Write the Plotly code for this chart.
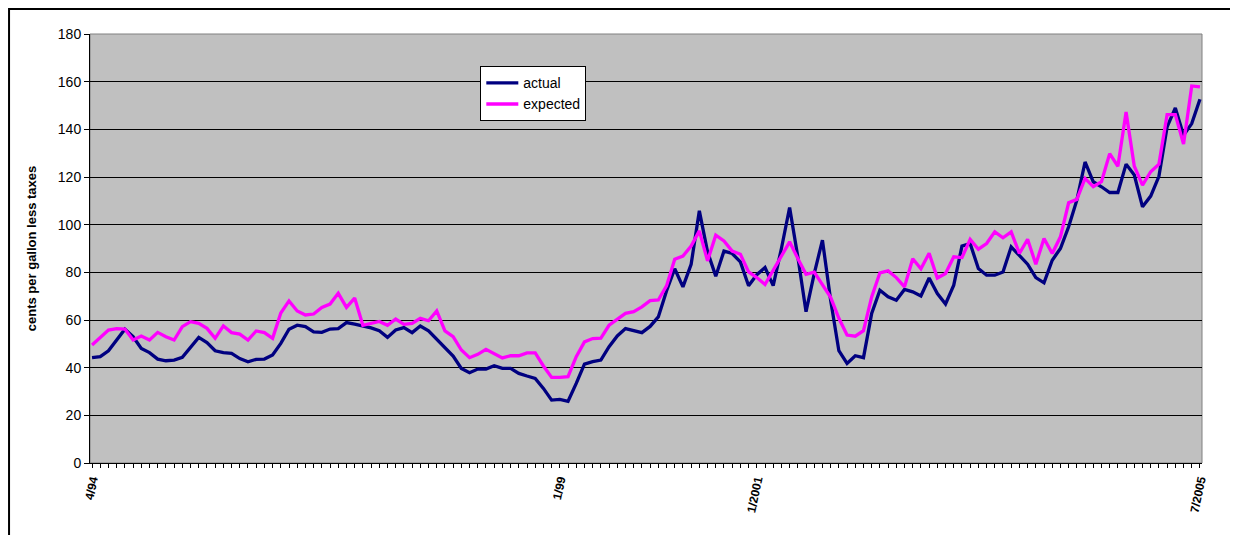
import plotly.graph_objects as go

# Monthly categories from 4/1994 through 7/2005
months = []
y, m = 1994, 4
while (y, m) <= (2005, 7):
    months.append(f"{y}-{m:02d}")
    m += 1
    if m > 12:
        m = 1
        y += 1

actual = [
    44.2, 44.6, 47.1, 51.6, 56.1, 53.0, 48.1, 46.3, 43.6, 42.9,
    43.2, 44.3, 48.5, 52.7, 50.5, 47.1, 46.3, 46.0, 43.8, 42.5,
    43.5, 43.6, 45.3, 50.2, 56.1, 57.8, 57.2, 55.0, 54.8, 56.2,
    56.4, 58.9, 58.3, 57.6, 56.7, 55.5, 52.7, 55.8, 56.8, 54.7,
    57.5, 55.5, 51.9, 48.5, 44.9, 39.7, 37.9, 39.4, 39.4, 40.8,
    39.7, 39.7, 37.6, 36.5, 35.5, 31.3, 26.4, 26.7, 25.9, 33.4,
    41.5, 42.5, 43.2, 48.8, 53.3, 56.4, 55.5, 54.7, 57.3, 61.3,
    72.2, 81.5, 73.9, 83.4, 105.8, 88.6, 78.4, 88.9, 87.9, 84.4,
    74.4, 79.0, 82.0, 74.4, 90.0, 107.2, 86.5, 63.5, 79.5, 93.5,
    68.3, 47.1, 41.8, 45.0, 44.2, 62.8, 72.5, 69.7, 68.3, 72.8,
    71.8, 70.1, 77.6, 71.1, 66.7, 74.6, 91.0, 92.1, 81.6, 78.8,
    78.8, 80.1, 90.7, 87.2, 83.4, 77.8, 75.6, 85.1, 90.0, 99.1,
    110.3, 126.3, 118.0, 115.9, 113.5, 113.5, 125.4, 120.8, 107.5, 112.0,
    120.3, 141.0, 149.0, 137.5, 142.4, 152.6,
]

expected = [
    49.5, 52.7, 55.8, 56.4, 56.2, 51.6, 53.3, 51.6, 54.8, 53.0,
    51.6, 57.2, 59.3, 58.6, 56.5, 52.3, 57.5, 54.7, 54.1, 51.6,
    55.4, 54.7, 52.3, 62.9, 68.0, 63.8, 62.1, 62.5, 65.3, 66.7,
    71.2, 65.3, 69.2, 57.8, 58.6, 59.4, 57.8, 60.4, 58.2, 58.6,
    60.7, 59.7, 63.8, 55.4, 53.0, 47.4, 44.2, 45.6, 47.7, 46.0,
    44.1, 45.0, 45.0, 46.2, 46.2, 40.7, 35.9, 35.9, 36.2, 44.6,
    50.8, 52.2, 52.4, 57.8, 60.3, 62.8, 63.5, 65.5, 68.1, 68.4,
    74.3, 85.5, 86.8, 91.0, 97.4, 84.8, 95.6, 93.2, 88.9, 87.6,
    80.2, 77.8, 74.9, 80.9, 86.5, 92.8, 85.8, 79.2, 80.1, 74.9,
    69.5, 60.7, 53.7, 53.2, 55.5, 69.7, 79.8, 80.6, 77.8, 73.9,
    85.7, 81.5, 88.0, 77.6, 79.5, 86.5, 86.2, 93.8, 89.7, 92.1,
    97.0, 94.5, 97.0, 87.9, 93.9, 83.4, 94.2, 87.9, 94.9, 109.2,
    110.6, 119.4, 115.9, 118.0, 129.8, 124.5, 147.3, 124.5, 116.6, 122.2,
    125.4, 146.2, 146.2, 133.8, 158.2, 157.8,
]

label_months = ["1994-04", "1999-01", "2001-01", "2005-07"]
label_texts = ["4/94", "1/99", "1/2001", "7/2005"]

tick_text = []
for mo in months:
    if mo in label_months:
        tick_text.append("<b>" + label_texts[label_months.index(mo)] + "</b>")
    else:
        tick_text.append("")

FONT = "Liberation Sans, Arial, sans-serif"

fig = go.Figure()
fig.add_trace(go.Scatter(x=months, y=actual, mode="lines", name="actual",
                         line=dict(color="#000080", width=3.3)))
fig.add_trace(go.Scatter(x=months, y=expected, mode="lines", name="expected",
                         line=dict(color="#FF00FF", width=3.3)))

# the page body has an 8px margin, so the figure is sized/offset to compensate
fig.update_layout(
    width=1230, height=527,
    margin=dict(l=82, r=36, t=26, b=72, autoexpand=False),
    paper_bgcolor="white",
    plot_bgcolor="#C0C0C0",
    font=dict(family=FONT, size=14, color="black"),
    showlegend=True,
    legend=dict(x=0.351, y=0.925, xanchor="left", yanchor="top",
                bgcolor="white", bordercolor="black", borderwidth=1,
                font=dict(family=FONT, size=14, color="black"),
                tracegroupgap=0, itemwidth=32),
    xaxis=dict(
        type="category",
        categoryorder="array", categoryarray=months,
        range=[-0.25, len(months) - 0.75],
        tickmode="array", tickvals=months, ticktext=tick_text,
        tickangle=-78,
        ticks="outside", ticklen=4, tickwidth=1, tickcolor="black",
        tickfont=dict(family=FONT, size=12, color="black"),
        showgrid=False, zeroline=False,
        showline=True, linecolor="black", linewidth=1,
    ),
    yaxis=dict(
        range=[0, 180], dtick=20, tick0=0,
        ticks="outside", ticklen=5, tickwidth=1, tickcolor="black",
        tickfont=dict(family=FONT, size=14, color="black"),
        showgrid=True, gridcolor="black", gridwidth=1,
        zeroline=False,
        showline=True, linecolor="black", linewidth=1,
        title=dict(text="<b>cents per gallon less taxes</b>",
                   font=dict(family=FONT, size=13, color="black"),
                   standoff=18),
    ),
    shapes=[
        dict(type="rect", xref="paper", yref="paper", x0=0, y0=0, x1=1, y1=1,
             line=dict(color="#808080", width=1), layer="below"),
        dict(type="rect", xref="paper", yref="paper",
             x0=-0.0728, y0=-0.3, x1=1.2, y1=1.058,
             line=dict(color="black", width=2)),
    ],
)

fig.write_html("out.html")
